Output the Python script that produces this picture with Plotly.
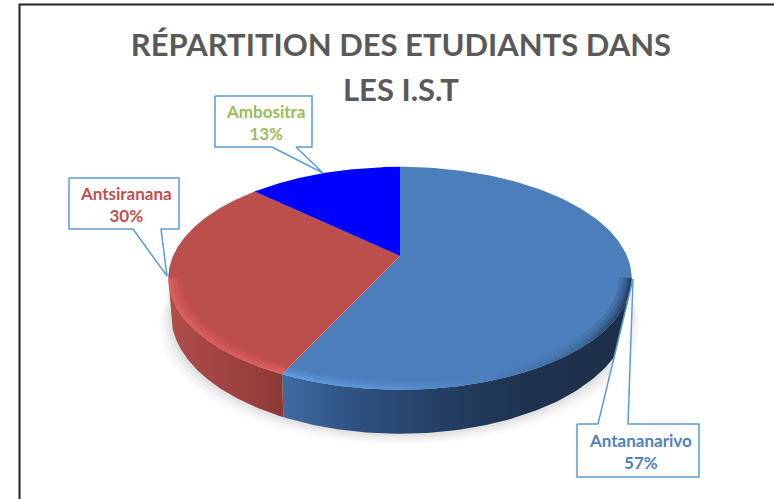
import math
import numpy as np
import plotly.graph_objects as go

# ---- data ----
categories = ["Antananarivo", "Antsiranana", "Ambositra"]
shares = [57, 30, 13]
title_lines = ["RÉPARTITION DES ETUDIANTS DANS", "LES I.S.T"]

# ---- styling ----
FACE = ["#4c7ebb", "#bc4f4b", "#0000ff"]
LABEL = ["#4f81bd", "#c0504d", "#9bbb59"]
SIDE = [
    [[0, "#3e6ca3"], [0.2, "#2f5282"], [0.45, "#243f63"], [0.7, "#1e334f"], [1, "#1c2f49"]],
    [[0, "#b04d4a"], [0.5, "#a04441"], [1, "#8e3936"]],
]
# rim colours, left to right, without alpha
RIM = [
    [[0, (98, 160, 230)], [0.3, (90, 147, 214)], [0.6, (76, 126, 187)], [0.85, (60, 100, 150)], [1, (31, 51, 80)]],
    [[0, (224, 96, 96)], [0.5, (222, 92, 92)], [1, (226, 100, 100)]],
]
CALLOUT = "#5b9bd5"
FONT = "Lato"

# projection of the pie disc into the picture (pixel-valued axes)
CX, CY, A, B, K = 400.0, 256.0, 227.0, 107.0, 0.2
DEPTH = 44.0


def proj(theta_deg, r=1.0):
    t = np.radians(theta_deg)
    u, v = r * np.sin(t), r * np.cos(t)
    d = 1 + K * v
    return CX + A * u / d, CY - B * v / d


def side_edge(theta_deg):
    t = np.radians(theta_deg)
    s = (1 - K) / (1 + K * np.cos(t))
    x, y = proj(theta_deg)
    return CX + (x - CX) * 0.988, y + DEPTH * s


def rim_scale(i, alpha):
    return [[p, f"rgba({c[0]},{c[1]},{c[2]},{alpha})"] for p, c in RIM[i]]


fig = go.Figure()


def poly(x, y, **kw):
    fig.add_trace(go.Scatter(x=list(x), y=list(y), mode="lines", fill="toself",
                             line=dict(width=0), hoverinfo="skip", showlegend=False, **kw))


# soft shadow below the pie
LEFT_T = 180 + math.degrees(math.acos(K))
RIGHT_T = 180 - math.degrees(math.acos(K))
for grow, alpha in [(12, .03), (9, .04), (6, .05), (3, .06)]:
    th = np.linspace(RIGHT_T - 12, LEFT_T + 12, 160)
    ex, ey = side_edge(th)
    cx_ = CX + (ex - CX) * (1 + grow / 232)
    cy_ = ey + grow * 0.9
    tx, ty = proj(th)
    poly(np.r_[cx_, tx[::-1]], np.r_[cy_, ty[::-1]], fillcolor=f"rgba(90,90,90,{alpha})")

# side walls, cut by the data
edges = np.cumsum([0] + shares) / sum(shares) * 360
front = [(RIGHT_T, edges[1]), (edges[1], LEFT_T)]
for i, (a, b) in enumerate(front):
    th = np.linspace(a, b, 120)
    tx, ty = proj(th)
    ex, ey = side_edge(th)
    poly(np.r_[tx, ex[::-1]], np.r_[ty, ey[::-1]],
         fillgradient=dict(type="horizontal", colorscale=SIDE[i]))

# top face slices
for i in range(len(shares)):
    th = np.linspace(edges[i], edges[i + 1], 200)
    tx, ty = proj(th)
    poly(np.r_[CX, tx, CX], np.r_[CY, ty, CY], fillcolor=FACE[i])

# soft bevel along the front of the top face (nested translucent bands)
for i, (a, b) in enumerate(front):
    th = np.linspace(a, b, 120)
    tx, ty = proj(th)
    for inner, alpha in [(0.95, 0.22), (0.965, 0.3), (0.98, 0.45), (0.99, 0.6)]:
        ix, iy = proj(th, r=inner)
        poly(np.r_[tx, ix[::-1]], np.r_[ty, iy[::-1]],
             fillgradient=dict(type="horizontal", colorscale=rim_scale(i, alpha)))

# callouts: box corners with pointer
boxes = {
    "Antananarivo": ([577, 598, 633, 628, 699, 699, 577, 577], [424, 424, 279, 424, 424, 477, 477, 424]),
    "Antsiranana": ([69, 179, 179, 161, 167, 133, 69, 69], [178, 178, 229, 229, 276, 229, 229, 178]),
    "Ambositra": ([215, 312, 312, 296, 323, 272, 215, 215], [96, 96, 147, 147, 173, 147, 147, 96]),
}
for name, (bx, by) in boxes.items():
    fig.add_trace(go.Scatter(x=bx, y=by, mode="lines", fill="toself", fillcolor="#ffffff",
                             line=dict(color=CALLOUT, width=1.5), hoverinfo="skip", showlegend=False))

label_pos = {"Antananarivo": (640, 451), "Antsiranana": (126, 204), "Ambositra": (265, 122)}
for name, share, col in zip(categories, shares, LABEL):
    x, y = label_pos[name]
    fig.add_annotation(x=x, y=y, xref="x", yref="y", showarrow=False, align="center",
                       text=f"<b>{name}<br>{share}%</b>",
                       font=dict(family=FONT, size=17, color=col))

# second title line (its line spacing is wider than the default)
fig.add_annotation(x=401, y=89, xref="x", yref="y", showarrow=False,
                   text=f"<b>{title_lines[1]}</b>",
                   font=dict(family=FONT, size=31, color="#595959"))

# frame of the picture
fig.add_trace(go.Scatter(x=[19.5, 19.5, 774], y=[499, 4.5, 4.5], mode="lines",
                         line=dict(color="#222222", width=2), hoverinfo="skip", showlegend=False))

fig.update_layout(
    width=774, height=499, autosize=False,
    margin=dict(l=0, r=0, t=0, b=0),
    paper_bgcolor="#ffffff", plot_bgcolor="#ffffff",
    title=dict(text=f"<b>{title_lines[0]}</b>", x=401 / 774, xanchor="center",
               y=1 - 45 / 499, yanchor="middle",
               font=dict(family=FONT, size=31, color="#595959")),
    xaxis=dict(range=[0, 774], visible=False, fixedrange=True),
    yaxis=dict(range=[499, 0], visible=False, fixedrange=True),
)
fig.write_html("out.html", post_script="document.body.style.margin='0';",
               config={"displayModeBar": False})
